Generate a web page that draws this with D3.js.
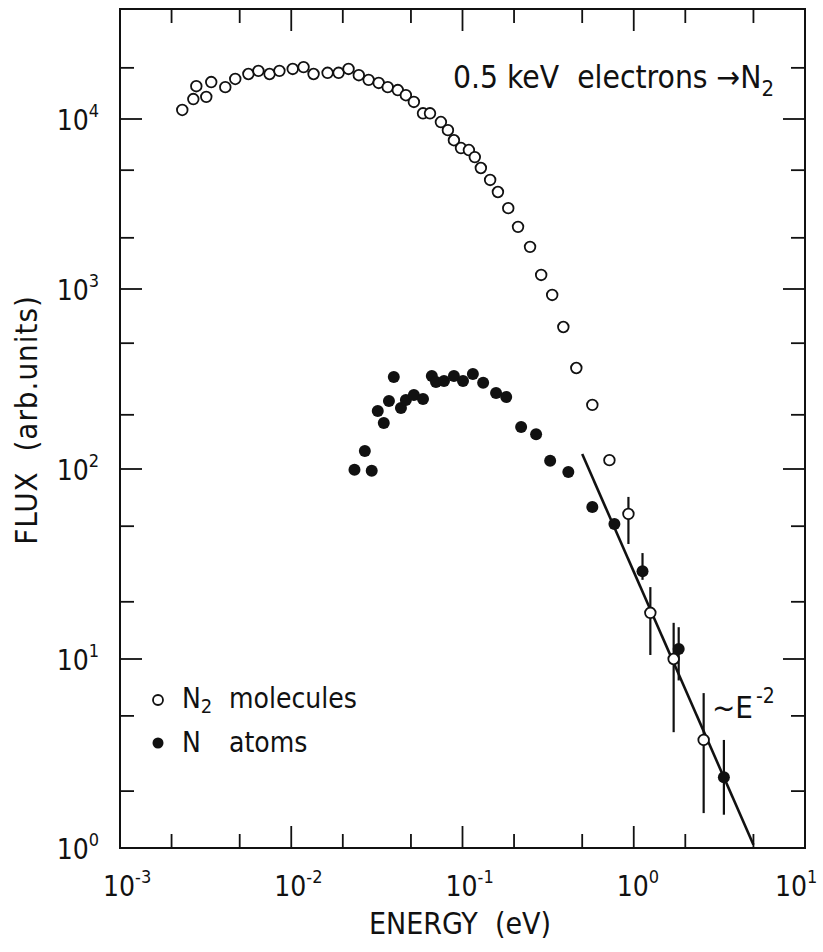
<!DOCTYPE html>
<html>
<head>
<meta charset="utf-8">
<script src="https://cdn.jsdelivr.net/npm/d3@7"></script>
<style>
  body { margin: 0; background: #fff; }
  svg { display: block; }
  text { font-family: "DejaVu Sans Condensed", "DejaVu Sans", sans-serif; font-stretch: condensed; fill: #111; }
</style>
</head>
<body>
<div id="chart"></div>
<script>
// Data (energy in eV, flux in arb. units)
const n2Energy = [0.00231, 0.00268, 0.00279, 0.00319, 0.00341, 0.00412, 0.00471, 0.00562, 0.00643, 0.00747,
  0.00853, 0.0102, 0.0118, 0.0135, 0.0163, 0.0189, 0.0216, 0.0248, 0.0283, 0.0324,
  0.0366, 0.0419, 0.0467, 0.0520, 0.0588, 0.0646, 0.0748, 0.0822, 0.0891, 0.0980,
  0.109, 0.118, 0.128, 0.145, 0.161, 0.185, 0.211, 0.248, 0.288, 0.334,
  0.388, 0.462, 0.573, 0.721, 0.931, 1.25, 1.71, 2.56]
const n2Flux = [11300, 13100, 15600, 13500, 16500, 15400, 17200, 18400, 19200, 18400,
  19200, 19700, 20200, 18400, 18700, 18700, 19700, 18100, 17000, 16300,
  15400, 14800, 13800, 12600, 10800, 10800, 9600, 8600, 7500, 6750,
  6570, 5970, 5150, 4380, 3720, 2990, 2320, 1770, 1210, 927,
  615, 364, 227, 112, 58, 17.5, 10.0, 3.73]
const n2BarEnergy = [0.931, 1.25, 1.71, 2.56]
const n2BarLow = [40.3, 10.5, 4.1, 1.53]
const n2BarHigh = [71.3, 23.9, 15.5, 6.6]

const nEnergy = [0.0234, 0.0269, 0.0295, 0.0320, 0.0347, 0.0372, 0.0397, 0.0437, 0.0467, 0.0520,
  0.0588, 0.0662, 0.0700, 0.0780, 0.0891, 0.1007, 0.115, 0.132, 0.157, 0.180,
  0.220, 0.269, 0.325, 0.415, 0.573, 0.771, 1.125, 1.83, 3.36]
const nFlux = [99, 126, 98, 210, 180, 239, 324, 218, 242, 258,
  245, 329, 304, 308, 329, 308, 337, 301, 264, 251,
  171, 156, 111, 96.4, 63.1, 51.4, 29.0, 11.3, 2.37]
const nBarEnergy = [1.125, 1.83, 3.36]
const nBarLow = [26.1, 7.7, 1.5]
const nBarHigh = [36.1, 14.7, 3.73]

// ~E^-2 guide line
const fitEnergy = [0.5, 5.0]
const fitFlux = [121, 1.04]

const xDecades = [-3, -2, -1, 0, 1]
const yDecades = [0, 1, 2, 3, 4]
const minorMult = [2, 5]

// Dimensions
const width = 823
const height = 952
const frame = { left: 120, right: 805, top: 9, bottom: 848 }

const svg = d3.select('#chart')
  .append('svg')
  .attr('width', width)
  .attr('height', height)

// scales (y follows the slightly uneven decade spacing of the scanned plot)
const x = d3.scaleLog()
  .domain([1e-3, 1e1])
  .range([frame.left, frame.right])
const y = d3.scaleLog()
  .domain([1, 10, 100, 1000, 10000, 44400])
  .range([frame.bottom, 659, 469, 289, 119, frame.top])

// frame
svg.append('rect')
  .attr('x', frame.left)
  .attr('y', frame.top)
  .attr('width', frame.right - frame.left)
  .attr('height', frame.bottom - frame.top)
  .attr('fill', 'none')
  .attr('stroke', '#111')
  .attr('stroke-width', 2)

// ticks
const xMajor = xDecades.map(d => Math.pow(10, d))
const xMinor = xDecades.slice(0, -1).flatMap(d => minorMult.map(m => m * Math.pow(10, d)))
const yMajor = yDecades.map(d => Math.pow(10, d))
const yMinor = yDecades.flatMap(d => minorMult.map(m => m * Math.pow(10, d))).filter(v => v < y.domain()[5])

const majorLen = 22
const minorLen = 14
const ticks = svg.append('g').attr('stroke', '#111').attr('stroke-width', 1.8)

const xTicks = xMajor.filter(v => v > 1e-3 && v < 1e1).map(v => ({ v, len: majorLen }))
  .concat(xMinor.map(v => ({ v, len: minorLen })))
ticks.selectAll('.xb').data(xTicks).join('line')
  .attr('x1', d => x(d.v)).attr('x2', d => x(d.v))
  .attr('y1', frame.bottom).attr('y2', d => frame.bottom - d.len)
ticks.selectAll('.xt').data(xTicks).join('line')
  .attr('x1', d => x(d.v)).attr('x2', d => x(d.v))
  .attr('y1', frame.top).attr('y2', d => frame.top + d.len)

const yTicks = yMajor.filter(v => v > 1).map(v => ({ v, len: majorLen }))
  .concat(yMinor.map(v => ({ v, len: minorLen })))
ticks.selectAll('.yl').data(yTicks).join('line')
  .attr('x1', frame.left).attr('x2', d => frame.left + d.len)
  .attr('y1', d => y(d.v)).attr('y2', d => y(d.v))
ticks.selectAll('.yr').data(yTicks).join('line')
  .attr('x1', frame.right).attr('x2', d => frame.right - d.len)
  .attr('y1', d => y(d.v)).attr('y2', d => y(d.v))

// tick labels (last one pulled in so it stays on the page)
const xLab = svg.append('g').selectAll('text').data(xDecades).join('text')
  .attr('x', d => d === 1 ? x(10) - 30 : x(Math.pow(10, d)) - 17)
  .attr('y', 896)
  .attr('font-size', 28)
xLab.append('tspan').text('10')
xLab.append('tspan').attr('dy', -13).attr('font-size', 18).text(d => d)

const yLab = svg.append('g').selectAll('text').data(yDecades).join('text')
  .attr('x', 99)
  .attr('y', d => y(Math.pow(10, d)) + 11)
  .attr('text-anchor', 'end')
  .attr('font-size', 28)
yLab.append('tspan').text('10')
yLab.append('tspan').attr('dy', -13).attr('font-size', 18).text(d => d)

// axis titles
svg.append('text')
  .attr('x', 460).attr('y', 934)
  .attr('text-anchor', 'middle')
  .attr('font-size', 30)
  .attr('xml:space', 'preserve')
  .text('ENERGY  (eV)')
svg.append('text')
  .attr('transform', 'translate(37,420) rotate(-90)')
  .attr('text-anchor', 'middle')
  .attr('font-size', 31)
  .attr('letter-spacing', 1)
  .attr('xml:space', 'preserve')
  .text('FLUX  (arb.units)')

// guide line
svg.append('path')
  .datum(fitEnergy.map((e, i) => [e, fitFlux[i]]))
  .attr('d', d3.line().x(d => x(d[0])).y(d => y(d[1])))
  .attr('stroke', '#111')
  .attr('stroke-width', 2.6)
  .attr('fill', 'none')

// error bars
const bars = svg.append('g').attr('stroke', '#111').attr('stroke-width', 2.2)
bars.selectAll('.b1').data(n2BarEnergy).join('line')
  .attr('x1', d => x(d)).attr('x2', d => x(d))
  .attr('y1', (d, i) => y(n2BarLow[i])).attr('y2', (d, i) => y(n2BarHigh[i]))
bars.selectAll('.b2').data(nBarEnergy).join('line')
  .attr('x1', d => x(d)).attr('x2', d => x(d))
  .attr('y1', (d, i) => y(nBarLow[i])).attr('y2', (d, i) => y(nBarHigh[i]))

// N atoms (filled)
svg.append('g').selectAll('circle').data(nEnergy).join('circle')
  .attr('cx', d => x(d))
  .attr('cy', (d, i) => y(nFlux[i]))
  .attr('r', 6)
  .attr('fill', '#111')

// N2 molecules (open)
svg.append('g').selectAll('circle').data(n2Energy).join('circle')
  .attr('cx', d => x(d))
  .attr('cy', (d, i) => y(n2Flux[i]))
  .attr('r', 5.3)
  .attr('fill', '#fff')
  .attr('stroke', '#111')
  .attr('stroke-width', 1.8)

// annotation
const title = svg.append('text')
  .attr('x', 453).attr('y', 88)
  .attr('font-size', 31.5)
  .attr('xml:space', 'preserve')
title.append('tspan').text('0.5 keV  electrons \u2192N')
title.append('tspan').attr('dy', 8).attr('font-size', 22).text('2')

const slope = svg.append('text')
  .attr('x', 712).attr('y', 718)
  .attr('font-size', 31)
slope.append('tspan').text('~E')
slope.append('tspan').attr('dx', 3).attr('dy', -15).attr('font-size', 21).text('-2')

// legend
const legend = svg.append('g')
legend.append('circle').attr('cx', 158).attr('cy', 700).attr('r', 5)
  .attr('fill', '#fff').attr('stroke', '#111').attr('stroke-width', 1.8)
legend.append('circle').attr('cx', 158).attr('cy', 743).attr('r', 5.5)
  .attr('fill', '#111')
const l1 = legend.append('text').attr('x', 182).attr('y', 708).attr('font-size', 28)
l1.append('tspan').text('N')
l1.append('tspan').attr('dy', 5).attr('font-size', 20).text('2')
legend.append('text').attr('x', 229).attr('y', 708).attr('font-size', 28).text('molecules')
legend.append('text').attr('x', 182).attr('y', 752).attr('font-size', 28).text('N')
legend.append('text').attr('x', 229).attr('y', 752).attr('font-size', 28).text('atoms')
</script>
</body>
</html>
